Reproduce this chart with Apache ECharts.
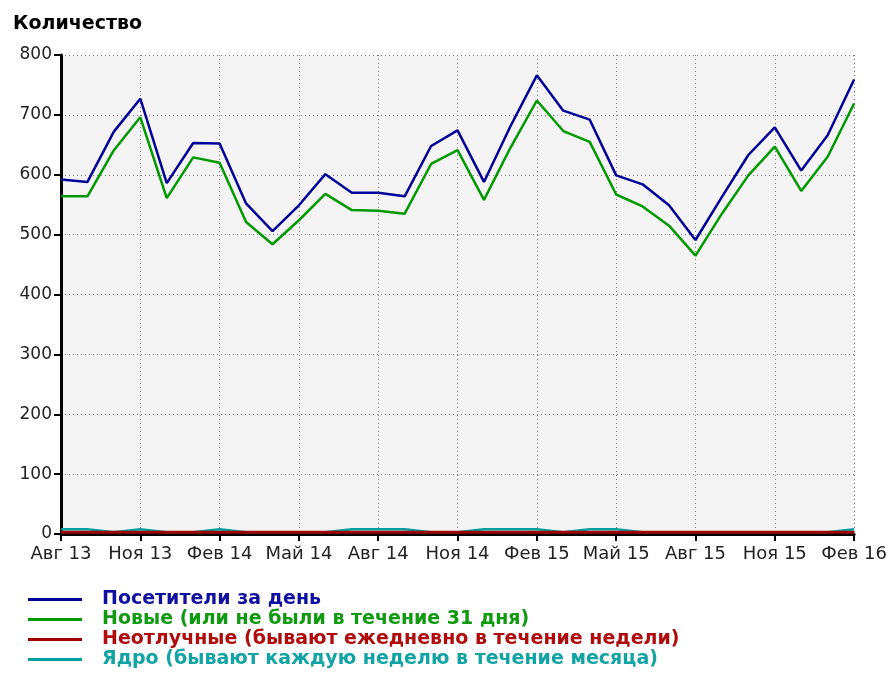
<!DOCTYPE html>
<html>
<head>
<meta charset="utf-8">
<script src="https://cdn.jsdelivr.net/npm/echarts@6/dist/echarts.min.js"></script>
<style>
html,body{margin:0;padding:0;background:#fff;}
#chart{width:890px;height:675px;}
</style>
</head>
<body>
<div id="chart"></div>
<script>
const categories = ["Авг 13","Сен 13","Окт 13","Ноя 13","Дек 13","Янв 14","Фев 14","Мар 14","Апр 14","Май 14","Июн 14","Июл 14","Авг 14","Сен 14","Окт 14","Ноя 14","Дек 14","Янв 15","Фев 15","Мар 15","Апр 15","Май 15","Июн 15","Июл 15","Авг 15","Сен 15","Окт 15","Ноя 15","Дек 15","Янв 16","Фев 16"];
const visitors = [592,588,672,727,586,653,652,552,506,549,601,570,570,564,648,674,588,681,766,707,692,599,584,549,491,563,633,679,607,666,759];
const newVisitors = [564,564,641,696,561,629,620,521,484,524,568,541,540,535,618,641,558,645,724,673,655,567,547,515,465,535,599,647,573,630,719];
const regulars = [3,3,3,3,3,3,3,3,3,3,3,3,3,3,3,3,3,3,3,3,3,3,3,3,3,3,3,3,3,3,3];
const core = [8,8,3,8,3,3,8,3,3,3,3,8,8,8,3,3,8,8,8,3,8,8,3,3,3,3,3,3,3,3,8];
const seriesNames = ["Посетители за день","Новые (или не были в течение 31 дня)","Неотлучные (бывают ежедневно в течение недели)","Ядро (бывают каждую неделю в течение месяца)"];
const colors = ["#000099","#009900","#a00000","#00a0a0"];
const legendColors = ["#1010a0","#109a10","#b00c0c","#12a4a4"];

const chart = echarts.init(document.getElementById('chart'));
const font = 'DejaVu Sans';
chart.setOption({
  animation: false,
  title: {
    text: 'Количество', left: 8, top: 10,
    textStyle: {fontFamily: font, fontWeight: 'bold', fontSize: 19, color: '#000'}
  },
  legend: {
    orient: 'vertical', left: 28, top: 590, height: 84, padding: 0,
    itemWidth: 54, itemHeight: 3, itemGap: 1, icon: 'rect',
    data: seriesNames.map((n, i) => ({name: n, textStyle: {color: legendColors[i]}})),
    textStyle: {fontFamily: font, fontWeight: 'bold', fontSize: 19, padding: [0,0,0,15]}
  },
  grid: {
    left: 61, right: 34, top: 55, bottom: 141,
    show: true, backgroundColor: '#f4f4f4', borderWidth: 0
  },
  xAxis: {
    type: 'category', data: categories, boundaryGap: false,
    axisLine: {lineStyle: {color: '#000', width: 3}},
    axisTick: {show: true, interval: 2, length: 7, lineStyle: {color: '#000', width: 2}},
    axisLabel: {interval: 2, margin: 11, fontFamily: font, fontSize: 18, color: '#222'},
    splitLine: {show: true, interval: 2, lineStyle: {color: '#7a7a7a', type: [1,3], width: 1}}
  },
  yAxis: {
    type: 'value', min: 0, max: 800, interval: 100,
    axisLine: {show: true, lineStyle: {color: '#000', width: 3}},
    axisTick: {show: true, length: 7, lineStyle: {color: '#000', width: 2}},
    axisLabel: {margin: 9, fontFamily: font, fontSize: 17, color: '#222'},
    splitLine: {show: true, lineStyle: {color: '#7a7a7a', type: [1,3], width: 1}}
  },
  series: [
    {name: seriesNames[0], type: 'line', data: visitors, showSymbol: false, color: colors[0], lineStyle: {width: 2.5, color: colors[0]}, z: 5},
    {name: seriesNames[1], type: 'line', data: newVisitors, showSymbol: false, color: colors[1], lineStyle: {width: 2.5, color: colors[1]}, z: 4},
    {name: seriesNames[2], type: 'line', data: regulars, showSymbol: false, color: colors[2], lineStyle: {width: 3, color: colors[2]}, z: 3},
    {name: seriesNames[3], type: 'line', data: core, showSymbol: false, color: colors[3], lineStyle: {width: 2.5, color: colors[3]}, z: 2}
  ]
});
</script>
</body>
</html>
